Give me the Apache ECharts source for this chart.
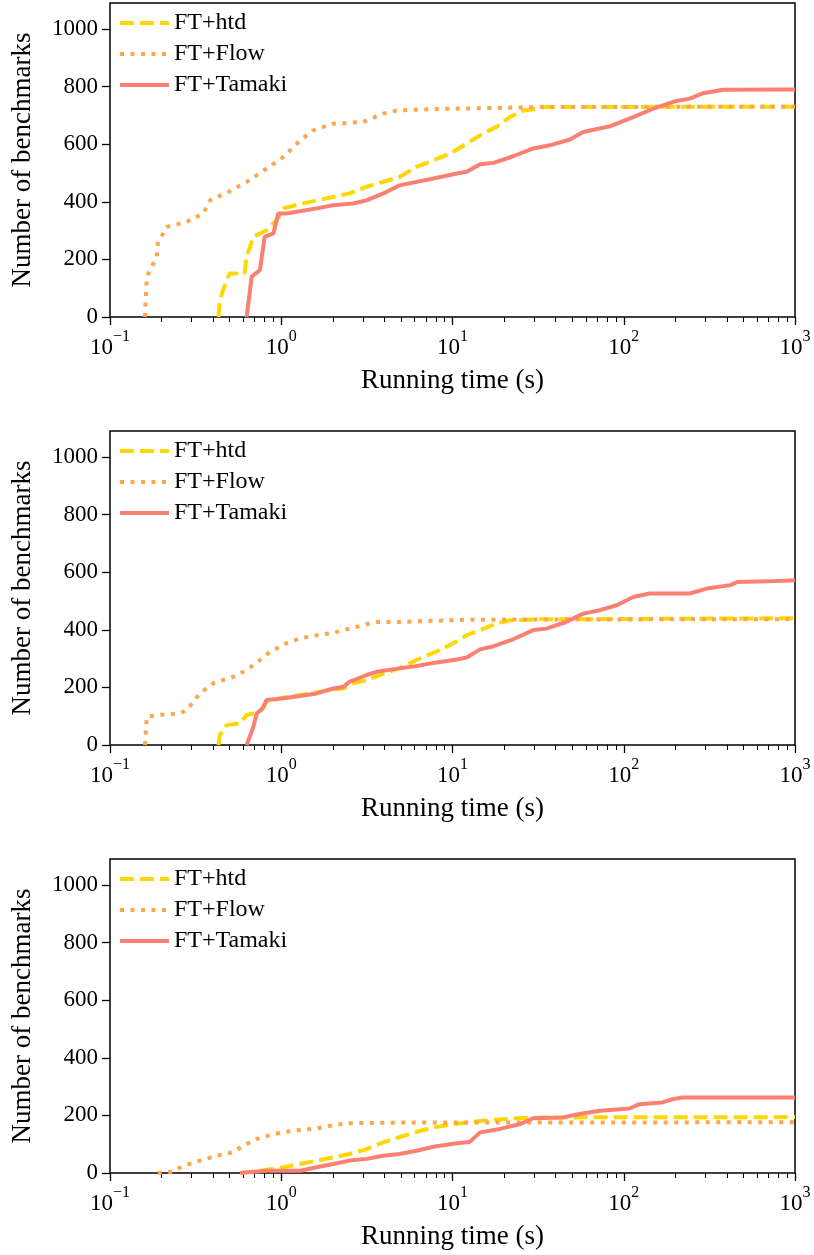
<!DOCTYPE html>
<html>
<head>
<meta charset="utf-8">
<script src="https://cdn.jsdelivr.net/npm/echarts@6/dist/echarts.min.js"></script>
<style>
html,body{margin:0;padding:0;background:#fff;}
#chart{width:814px;height:1255px;}
</style>
</head>
<body>
<div id="chart"></div>
<script>
// ---- data ----
const SERIES_NAMES = ['FT+htd', 'FT+Flow', 'FT+Tamaki'];
const X_TITLE = 'Running time (s)';
const Y_TITLE = 'Number of benchmarks';
const X_MAJOR = [0.1, 1, 10, 100, 1000];
const X_MINOR = [0.2,0.3,0.4,0.5,0.6,0.7,0.8,0.9, 2,3,4,5,6,7,8,9, 20,30,40,50,60,70,80,90, 200,300,400,500,600,700,800,900];
const Y_TICKS = [0, 200, 400, 600, 800, 1000];

// panel 1
const htd1 = [[0.43,0],[0.438,59],[0.48,128],[0.50,151],[0.61,151],[0.628,209],[0.687,278],[0.82,301],[0.94,336],[1.03,377],[1.29,392],[2.01,417],[2.5,429],[3.15,452],[4.9,486],[6.17,521],[9.66,567],[12.1,602],[15.1,637],[18.1,660],[21.6,694],[25.9,717],[31,723],[33.9,729],[1000,730]];
const flow1 = [[0.16,0],[0.164,140],[0.1875,209],[0.19,255],[0.214,313],[0.28,330],[0.35,359],[0.384,405],[0.48,431],[0.628,469],[0.82,515],[1.03,556],[1.29,613],[1.54,648],[2.01,671],[3.01,677],[3.94,706],[4.72,717],[8,722],[35,729],[1000,730]];
const tamaki1 = [[0.628,0],[0.672,140],[0.751,163],[0.80,278],[0.90,290],[0.94,336],[0.96,359],[1.07,359],[1.61,377],[2.01,388],[2.63,394],[3.15,405],[3.94,429],[4.9,457],[6.17,469],[7.74,481],[10.6,498],[12.1,504],[14.5,530],[17.4,535],[22.6,558],[29.6,585],[37,596],[48.5,616],[58,642],[83,662],[113.5,694],[148.5,723],[203,750],[243,758],[291,777],[380,789],[1000,790]];

// panel 2
const htd2 = [[0.43,0],[0.438,35],[0.48,69],[0.575,75],[0.628,104],[0.751,115],[0.82,150],[1.03,164],[2.01,193],[2.3,196],[2.63,214],[3.15,225],[3.94,248],[4.9,266],[6.17,295],[8.4,329],[10.1,353],[12.1,381],[14.5,399],[18.1,422],[21.6,433],[29.6,436],[1000,440]];
const flow2 = [[0.16,0],[0.164,98],[0.1875,104],[0.256,110],[0.28,121],[0.335,179],[0.40,214],[0.525,237],[0.628,260],[0.751,295],[0.86,323],[1.07,353],[1.29,370],[1.61,381],[2.01,389],[2.5,404],[3.15,419],[3.6,427],[4.9,427],[12.1,435],[1000,437]];
const tamaki2 = [[0.628,0],[0.687,63],[0.72,110],[0.78,127],[0.82,156],[1.03,162],[1.29,170],[1.61,179],[2.01,196],[2.3,202],[2.5,219],[3.15,243],[3.6,254],[4.9,266],[6.17,274],[7.74,285],[10.6,297],[12.1,304],[14.5,332],[17.4,343],[22.6,367],[29.6,399],[35.4,404],[46,427],[58,456],[72.5,468],[91,485],[113.5,514],[142,526],[243,526],[305,543],[420,555],[460,566],[690,568],[1000,572]];

// panel 3
const htd3 = [[0.575,0],[0.751,8],[1.03,20],[1.29,31],[1.61,43],[2.01,54],[2.5,66],[3.15,83],[3.94,106],[4.9,124],[6.17,143],[7.74,158],[10.1,170],[15.1,181],[23.8,190],[40,193],[1000,194]];
const flow3 = [[0.19,0],[0.234,5],[0.268,25],[0.335,43],[0.42,60],[0.525,72],[0.60,95],[0.72,118],[0.90,135],[1.18,147],[1.61,155],[2.01,166],[2.5,173],[4.9,175],[1000,176]];
const tamaki3 = [[0.575,0],[0.82,8],[1.29,8],[1.61,20],[2.01,31],[2.5,43],[3.15,49],[3.94,60],[4.9,66],[6.17,77],[7.74,91],[10.6,103],[12.6,108],[14.5,141],[18.9,153],[24.9,170],[29.6,190],[44,193],[55,205],[72.5,216],[108,224],[123.5,239],[168,245],[192,256],[220,262],[1000,262]];

const PANELS = [[htd1, flow1, tamaki1], [htd2, flow2, tamaki2], [htd3, flow3, tamaki3]];

// ---- styles ----
const FONT = 'Liberation Serif';
const COLORS = ['#FFD700', '#FFA64D', '#FA8072'];
const LINE_TYPES = [[14, 6], [4, 6.5], 'solid'];
const GRID_TOPS = [3, 431, 859];
const GRID_H = 314;

const chart = echarts.init(document.getElementById('chart'), null, {renderer: 'canvas'});

const grids = [], xAxes = [], yAxes = [], series = [], legends = [];
GRID_TOPS.forEach((top, gi) => {
  grids.push({left: 110, top: top, width: 685, height: GRID_H, show: true,
    borderColor: '#000', borderWidth: 1.5, backgroundColor: 'transparent', containLabel: false});
  xAxes.push({
    type: 'log', logBase: 10, gridIndex: gi, min: 0.1, max: 1000, position: 'bottom',
    name: X_TITLE, nameLocation: 'middle', nameGap: 50,
    nameTextStyle: {fontFamily: FONT, fontSize: 27, color: '#000'},
    axisLine: {show: false},
    splitLine: {show: false},
    axisTick: {show: true, inside: false, length: 8, lineStyle: {color: '#000', width: 1.3}, customValues: X_MAJOR},
    axisLabel: {
      show: true, margin: 12, customValues: X_MAJOR,
      formatter: v => {
        const e = Math.round(Math.log10(v));
        const s = e < 0 ? '\u2212' + (-e) : String(e);
        return '{b|10}{s|' + s + '}';
      },
      rich: {
        b: {fontFamily: FONT, fontSize: 23, color: '#000', lineHeight: 30, verticalAlign: 'bottom'},
        s: {fontFamily: FONT, fontSize: 16, color: '#000', lineHeight: 30, verticalAlign: 'top'}
      }
    }
  });
  xAxes.push({
    type: 'log', logBase: 10, gridIndex: gi, min: 0.1, max: 1000, position: 'bottom',
    axisLine: {show: false}, splitLine: {show: false},
    axisTick: {show: true, inside: false, length: 5, lineStyle: {color: '#000', width: 1}, customValues: X_MINOR},
    axisLabel: {show: false}
  });
  yAxes.push({
    type: 'value', gridIndex: gi, min: 0, max: 1090,
    name: Y_TITLE, nameLocation: 'middle', nameGap: 74, nameRotate: 90,
    nameTextStyle: {fontFamily: FONT, fontSize: 27, color: '#000'},
    axisLine: {show: false}, splitLine: {show: false},
    axisTick: {show: true, inside: false, length: 8, lineStyle: {color: '#000', width: 1.3}, customValues: Y_TICKS},
    axisLabel: {show: true, margin: 12, customValues: Y_TICKS, fontFamily: FONT, fontSize: 23, color: '#000',
      formatter: v => String(v)}
  });
  PANELS[gi].forEach((d, si) => {
    series.push({
      type: 'line', name: SERIES_NAMES[si], xAxisIndex: gi * 2, yAxisIndex: gi,
      data: d, showSymbol: false, symbol: 'none', smooth: false, silent: true,
      lineStyle: {color: COLORS[si], width: 4, type: LINE_TYPES[si], cap: 'butt'},
      itemStyle: {color: COLORS[si], opacity: 0},
      z: 2 + si
    });
  });
  legends.push({
    orient: 'vertical', left: 118, top: top + 8, itemGap: 7, padding: 0,
    itemWidth: 49, itemHeight: 14,
    data: SERIES_NAMES,
    lineStyle: {width: 4},
    itemStyle: {opacity: 0, borderWidth: 0},
    textStyle: {fontFamily: FONT, fontSize: 24, color: '#000'},
    selectedMode: false
  });
});

chart.setOption({
  animation: false,
  backgroundColor: '#fff',
  grid: grids, xAxis: xAxes, yAxis: yAxes, series: series, legend: legends
});
</script>
</body>
</html>
